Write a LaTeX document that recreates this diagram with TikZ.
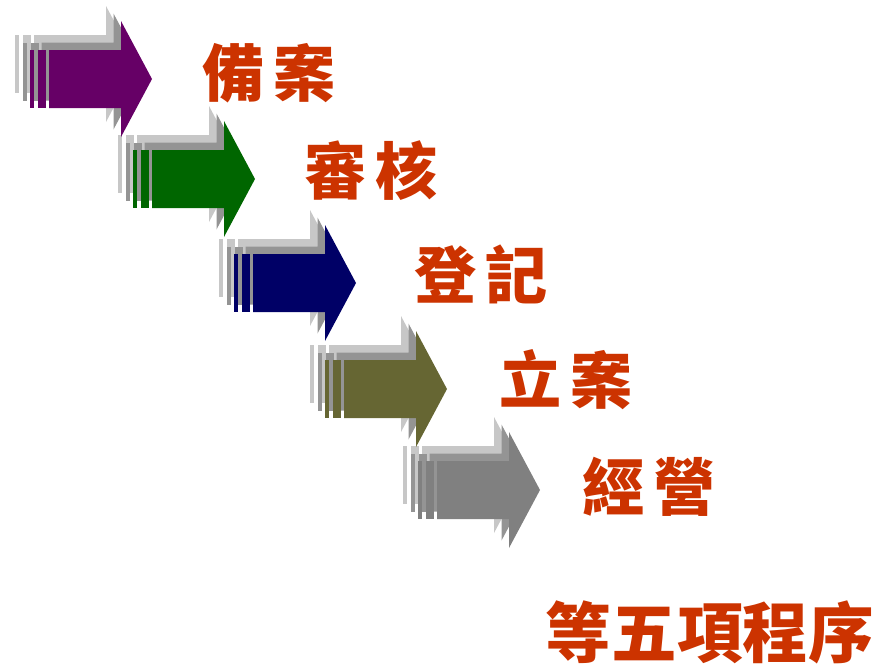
\documentclass[tikz,border=0pt]{standalone}
\usepackage{fontspec}
\newfontfamily\cjk{Noto Sans CJK TC}
\usepackage{tikz}
\usetikzlibrary{calc,positioning}
\definecolor{arrowA}{HTML}{660066}
\definecolor{arrowB}{HTML}{006600}
\definecolor{arrowC}{HTML}{000066}
\definecolor{arrowD}{HTML}{666633}
\definecolor{arrowE}{HTML}{808080}
\definecolor{redtext}{HTML}{CC3300}

\begin{document}
\begin{tikzpicture}[x=0.03cm,y=-0.03cm]
\tikzset{steptext/.style={text=redtext,inner sep=0pt,font=\cjk\bfseries\fontsize{53}{53}\selectfont}}
\useasboundingbox (0,0) rectangle (881,668);

% arrows, last one first so the upper heads lie on top
\foreach \x/\y/\c in {437/490/arrowE,344/389/arrowD,253/283/arrowC,152/179/arrowB,49/79/arrowA} {
\foreach \d/\g in {15/black!22,7.5/black!42,0/\c} {
\begin{scope}[shift={(\x-\d,\y-\d)}]
\fill[\g] (0,-29) -- (72,-29) -- (72,-58) -- (103,0) -- (72,58) -- (72,29) -- (0,29) -- cycle;
\fill[\g] (-19,-29) rectangle (-15,29);
\fill[\g] (-11,-29) rectangle (-3,29);
\end{scope}}}

\node[steptext] (beian) at (269,73) {備\hspace{8pt}案};
\node[steptext] (shenhe) at (371,171) {審\hspace{8pt}核};
\node[steptext] (dengji) at (481,274) {登\hspace{8pt}記};
\node[steptext] (lian) at (566,380) {立\hspace{8pt}案};
\node[steptext] (jingying) at (649,487) {經\hspace{8pt}營};
\node[steptext,font=\cjk\bfseries\fontsize{56}{56}\selectfont] (wuxiang) at (710,632) {等五項程序};

\end{tikzpicture}
\end{document}
